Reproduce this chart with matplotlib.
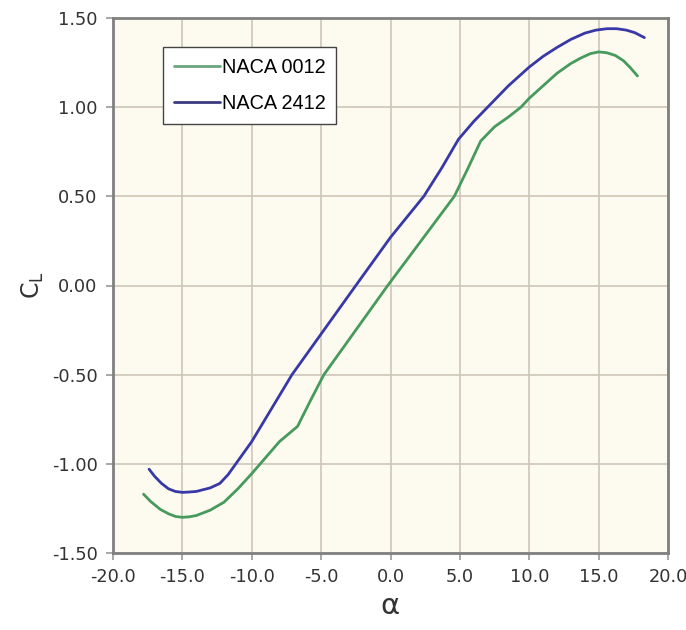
import matplotlib
matplotlib.use("Agg")
import matplotlib.pyplot as plt
import numpy as np

# lift curves
alpha_0012 = [-17.8, -17.3, -16.6, -16.0, -15.5, -15.0, -14.5, -14.0, -13.0, -12.0, -11.0,
              -10.0, -9.0, -8.0, -6.7, -5.8, -4.8, -0.2, 4.6, 5.6, 6.5, 7.5, 8.5, 9.4, 10.0,
              11.0, 12.0, 13.0, 13.7, 14.4, 15.0, 15.6, 16.2, 16.8, 17.3, 17.8]
cl_0012 = [-1.17, -1.21, -1.255, -1.28, -1.295, -1.30, -1.297, -1.29, -1.26, -1.215, -1.14,
           -1.055, -0.965, -0.875, -0.79, -0.65, -0.50, 0.0, 0.50, 0.66, 0.81, 0.89, 0.945,
           1.00, 1.05, 1.12, 1.19, 1.245, 1.275, 1.30, 1.31, 1.305, 1.29, 1.26, 1.22, 1.175]

alpha_2412 = [-17.4, -17.0, -16.5, -16.0, -15.5, -15.0, -14.5, -14.0, -13.0, -12.3, -11.7,
              -10.0, -7.1, -2.5, 0.0, 2.4, 3.7, 4.9, 6.0, 7.0, 8.5, 10.0, 11.0, 12.0, 13.0,
              14.0, 14.8, 15.6, 16.3, 17.0, 17.6, 18.3]
cl_2412 = [-1.03, -1.07, -1.11, -1.14, -1.155, -1.16, -1.158, -1.155, -1.135, -1.11, -1.06,
           -0.875, -0.50, 0.0, 0.27, 0.50, 0.66, 0.82, 0.92, 1.00, 1.12, 1.225, 1.285, 1.335,
           1.38, 1.415, 1.432, 1.44, 1.44, 1.432, 1.418, 1.39]

series_names = ["NACA 0012", "NACA 2412"]
x_ticks = [-20, -15, -10, -5, 0, 5, 10, 15, 20]
y_ticks = [-1.5, -1.0, -0.5, 0.0, 0.5, 1.0, 1.5]

fig = plt.figure(figsize=(6.86, 6.30), dpi=100)
ax = fig.add_axes([113 / 686, 1 - 553 / 630, 555 / 686, 535 / 630])
ax.set_facecolor("#fdfbf0")

line_kw = dict(lw=2.0, solid_joinstyle="round", solid_capstyle="round", zorder=3)
ax.plot(alpha_0012, cl_0012, color="#479a5c", label=series_names[0], **line_kw)
ax.plot(alpha_2412, cl_2412, color="#3838a6", label=series_names[1], **line_kw)

ax.set_xlim(-20, 20)
ax.set_ylim(-1.5, 1.5)
ax.set_xticks(x_ticks)
ax.set_yticks(y_ticks)
ax.set_xticklabels([f"{v:.1f}" for v in x_ticks])
ax.set_yticklabels([f"{v:.2f}" for v in y_ticks])
ax.grid(True, color="#cdc6b8", lw=1.2)
ax.set_axisbelow(True)

for s in ax.spines.values():
    s.set_color("#808080")
    s.set_linewidth(2.0)
ax.tick_params(direction="out", length=5, width=1.2, color="#999999",
               labelsize=12.8, labelcolor="#333333", pad=6)

ax.set_xlabel("α", fontsize=21, color="#333333", labelpad=4)
ax.set_ylabel(r"C$_\mathregular{L}$", fontsize=17, color="#333333", labelpad=4)

leg = ax.legend(loc="upper left", bbox_to_anchor=(0.09, 0.945), fancybox=False,
                framealpha=1, edgecolor="#444444", handlelength=2.3,
                prop={"family": "Liberation Sans", "size": 14.3},
                borderpad=0.55, labelspacing=0.85, handletextpad=0.1,
                borderaxespad=0)
leg.get_frame().set_linewidth(1.0)
leg.get_lines()[0].set_color("#6aa57c")
leg.get_lines()[1].set_color("#3a3a80")

fig.savefig("out.png", dpi=100)
